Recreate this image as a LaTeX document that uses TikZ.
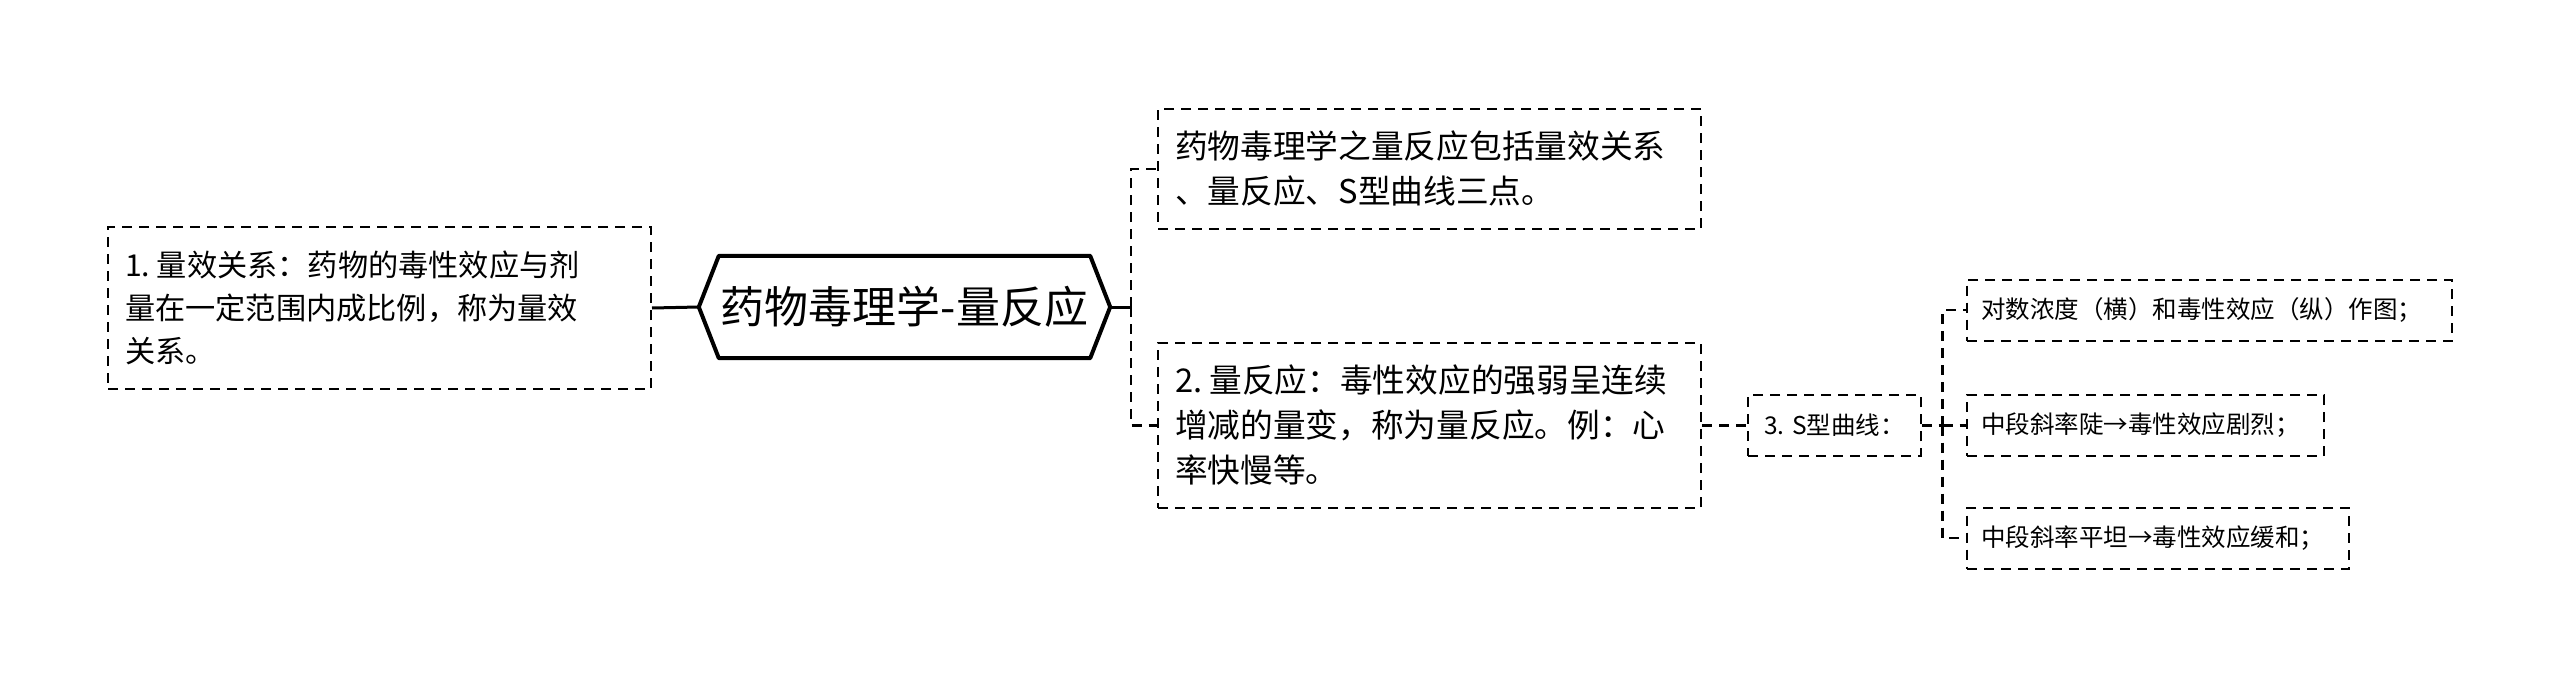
\documentclass[tikz,border=0pt]{standalone}
\usepackage{fontspec}
\newfontfamily\cjk{Noto Sans CJK SC}
\usetikzlibrary{calc,
                positioning}

\begin{document}
\begin{tikzpicture}[
			x=1pt, y=-1pt,
			box/.style = {draw, dash pattern=on 10pt off 7pt, line width=2pt, align=left, inner ysep=0pt},
			topic/.style = {box, font=\cjk\fontsize{32.7}{45}\selectfont, inner xsep=17pt, text width=509pt, minimum height=#1},
			leaf/.style = {box, font=\cjk\fontsize{24.5}{32}\selectfont, inner xsep=14pt, minimum height=61pt},
			link/.style = {line width=2.5pt, dash pattern=on 10pt off 7pt},
			trunk/.style = {line width=3pt},
			]
			\useasboundingbox (0,0) rectangle (2560,677);
			% centre
			\node[font=\cjk\fontsize{44}{50}\selectfont, minimum width=411pt, minimum height=102pt, inner sep=0pt] (root) at (904.5,307) {药物毒理学-量反应};
			\draw[line width=4pt, line join=round] (root.west) -- ($(root.north west)+(20,0)$) -- ($(root.north east)+(-20,0)$) -- (root.east) -- ($(root.south east)+(-20,0)$) -- ($(root.south west)+(20,0)$) -- cycle;
			% topics
			\node[topic=162pt, font=\cjk\fontsize{30.2}{43}\selectfont] (dose) at (379.5,308) {1.\hspace{0.22em}量效关系：药物的毒性效应与剂\\量在一定范围内成比例，称为量效\\关系。};
			\node[topic=120pt] (intro) at (1429.5,169) {药物毒理学之量反应包括量效关系\\、量反应、S型曲线三点。};
			\node[topic=165pt] (grade) at (1429.5,425.5) {2.\hspace{0.22em}量反应：毒性效应的强弱呈连续\\增减的量变，称为量反应。例：心\\率快慢等。};
			\node[leaf, inner xsep=16pt] (scurve) at (1834.5,425.5) {3. S型曲线：};
			% leaves
			\node[leaf, text width=457pt, anchor=west] (axes) at (1966,310) {对数浓度（横）和毒性效应（纵）作图；};
			\node[leaf, text width=329pt, anchor=west] (steep) at (1966,425.5) {中段斜率陡→毒性效应剧烈；};
			\node[leaf, text width=354pt, anchor=west] (flat) at (1966,538) {中段斜率平坦→毒性效应缓和；};
			% edges
			\coordinate (rj) at ($(root.east)+(21,0)$);
			\coordinate (sj) at ($(scurve.east)+(21,0)$);
			\draw[trunk] (dose.east) -- (root.west);
			\draw[trunk] (root.east) -- (rj);
			\draw[link] (rj) |- (intro.west);
			\draw[link] (rj) |- (grade.west);
			\draw[link] (grade.east) -- (scurve.west);
			\draw[link] (scurve.east) -- (sj);
			\draw[link] (sj) |- (axes.west);
			\draw[link] (sj) -- (steep.west);
			\draw[link] (sj) |- (flat.west);
		\end{tikzpicture}
\end{document}
